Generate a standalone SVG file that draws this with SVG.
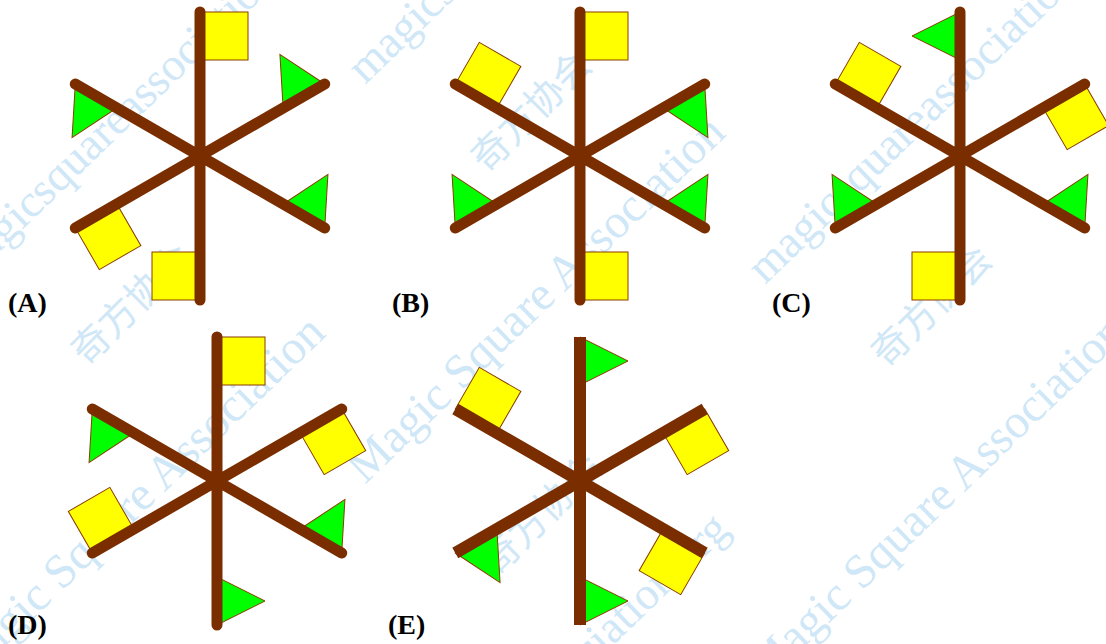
<svg xmlns="http://www.w3.org/2000/svg" xmlns:xlink="http://www.w3.org/1999/xlink" width="1106" height="644" viewBox="0 0 1106 644">
<style>
.wm{fill:#cfe7f7;font-family:"Liberation Serif",serif;font-size:46px}
.wmc{fill:#cfe7f7;font-family:"Noto Sans CJK SC",sans-serif;font-size:38px}
.sq{fill:#ffff00;stroke:#8a3c00;stroke-width:1}
.tr{fill:#00ff00;stroke:#8a3c00;stroke-width:1}
.arm{fill:none;stroke:#7a2e00;stroke-width:11;stroke-linecap:round}
.armE{fill:none;stroke:#7a2e00;stroke-width:12;stroke-linecap:butt}
.lbl{font-family:"Liberation Serif",serif;font-weight:bold;font-size:28px;fill:#000}
</style>
<defs>
<rect id="sqR" class="sq" x="0" y="-144" width="48" height="48"/>
<rect id="sqL" class="sq" x="-48" y="-144" width="48" height="48"/>
<polygon id="trR" class="tr" points="0,-144 48,-120 0,-96"/>
<polygon id="trL" class="tr" points="0,-144 -48,-120 0,-96"/>
<path id="star" d="M0,-144V144M-124.7,-72L124.7,72M-124.7,72L124.7,-72"/>
</defs>
<rect width="1106" height="644" fill="#ffffff"/>
<g id="watermark">
<text class="wm" transform="translate(-35,285) rotate(-44)">magicsquareassociation.org</text>
<text class="wm" transform="translate(365,85) rotate(-44)">magicsquareassociation.org</text>
<text class="wm" transform="translate(765,285) rotate(-44)">magicsquareassociation.org</text>
<text class="wm" transform="translate(365,885) rotate(-44)">magicsquareassociation.org</text>
<text class="wm" style="font-size:48px" transform="translate(365,485) rotate(-44)">Magic Square Association</text>
<text class="wm" style="font-size:48px" transform="translate(-35,685) rotate(-44)">Magic Square Association</text>
<text class="wm" style="font-size:48px" transform="translate(765,685) rotate(-44)">Magic Square Association</text>
<text class="wmc" transform="translate(87,367) rotate(-45)">奇方协会</text>
<text class="wmc" transform="translate(487,174) rotate(-45)">奇方协会</text>
<text class="wmc" transform="translate(497,577) rotate(-45)">奇方协会</text>
<text class="wmc" transform="translate(887,369) rotate(-45)">奇方协会</text>
<text class="wmc" transform="translate(97,770) rotate(-45)">奇方协会</text>
<text class="wmc" transform="translate(897,770) rotate(-45)">奇方协会</text>
</g>
<g id="fig-A" transform="translate(200,156)">
<use xlink:href="#sqR"/>
<use xlink:href="#trL" transform="rotate(60)"/>
<use xlink:href="#trL" transform="rotate(120)"/>
<use xlink:href="#sqR" transform="rotate(180)"/>
<use xlink:href="#sqL" transform="rotate(240)"/>
<use xlink:href="#trL" transform="rotate(300)"/>
<use xlink:href="#star" class="arm"/>
</g>
<g id="fig-B" transform="translate(580,156)">
<use xlink:href="#sqR"/>
<use xlink:href="#trR" transform="rotate(60)"/>
<use xlink:href="#trL" transform="rotate(120)"/>
<use xlink:href="#sqL" transform="rotate(180)"/>
<use xlink:href="#trR" transform="rotate(240)"/>
<use xlink:href="#sqR" transform="rotate(300)"/>
<use xlink:href="#star" class="arm"/>
</g>
<g id="fig-C" transform="translate(960,156)">
<use xlink:href="#trL"/>
<use xlink:href="#sqR" transform="rotate(60)"/>
<use xlink:href="#trL" transform="rotate(120)"/>
<use xlink:href="#sqR" transform="rotate(180)"/>
<use xlink:href="#trR" transform="rotate(240)"/>
<use xlink:href="#sqR" transform="rotate(300)"/>
<use xlink:href="#star" class="arm"/>
</g>
<g id="fig-D" transform="translate(217,481)">
<use xlink:href="#sqR"/>
<use xlink:href="#sqR" transform="rotate(60)"/>
<use xlink:href="#trL" transform="rotate(120)"/>
<use xlink:href="#trL" transform="rotate(180)"/>
<use xlink:href="#sqR" transform="rotate(240)"/>
<use xlink:href="#trL" transform="rotate(300)"/>
<use xlink:href="#star" class="arm"/>
</g>
<g id="fig-E" transform="translate(580,481)">
<use xlink:href="#trR"/>
<use xlink:href="#sqR" transform="rotate(60)"/>
<use xlink:href="#sqR" transform="rotate(120)"/>
<use xlink:href="#trL" transform="rotate(180)"/>
<use xlink:href="#trL" transform="rotate(240)"/>
<use xlink:href="#sqR" transform="rotate(300)"/>
<use xlink:href="#star" class="armE"/>
</g>
<g id="labels">
<text class="lbl" x="8" y="312">(A)</text>
<text class="lbl" x="392" y="312">(B)</text>
<text class="lbl" x="772" y="312">(C)</text>
<text class="lbl" x="8" y="634">(D)</text>
<text class="lbl" x="388" y="634">(E)</text>
</g>
</svg>
